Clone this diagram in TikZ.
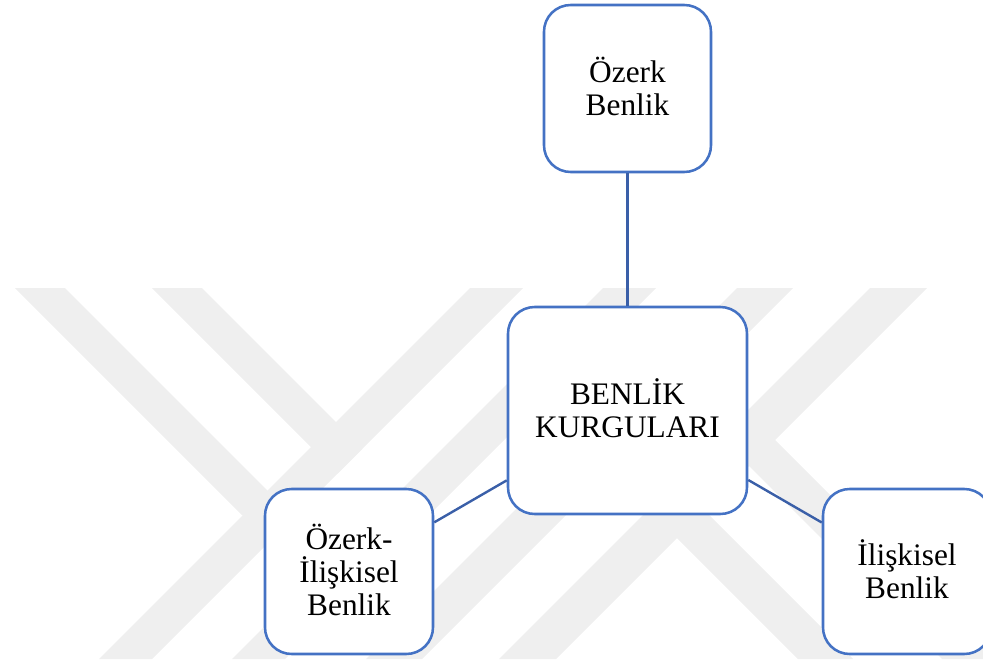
\documentclass[tikz,border=0pt]{standalone}
\usepackage{fontspec}
\setmainfont{Liberation Serif}
\definecolor{wm}{RGB}{239,239,239}
\definecolor{boxblue}{RGB}{68,114,196}
\definecolor{lineblue}{RGB}{58,95,168}
\begin{document}
\begin{tikzpicture}[x=0.75pt,y=-0.75pt,
  box/.style={draw=boxblue, line width=1.9pt, fill=white, rounded corners=20pt,
    inner sep=0pt, align=center, font=\fontsize{23.5}{24.75}\selectfont},
  link/.style={draw=lineblue, line width=1.8pt},
  wmark/.style={fill=wm, draw=none}]
\useasboundingbox (0,0) rectangle (983,664);
% watermark bands
\fill[wmark] (15,288) -- (65,288) -- (294,517) -- (242.5,515.5) -- cycle;
\fill[wmark] (152,288) -- (202,288) -- (362.5,448.5) -- (337.5,473.5) -- cycle;
\fill[wmark] (470,288) -- (523,288) -- (152,659) -- (99,659) -- cycle;
\fill[wmark] (603,288) -- (656,288) -- (285,659) -- (232,659) -- cycle;
\fill[wmark] (737,288) -- (793,288) -- (422,659) -- (366,659) -- cycle;
\fill[wmark] (870,288) -- (927,288) -- (556,659) -- (499,659) -- cycle;
\fill[wmark] (720.5,437.5) -- (746.5,411.5) -- (994,659) -- (942,659) -- cycle;
\fill[wmark] (648.5,509.5) -- (676,482) -- (853,659) -- (798,659) -- cycle;
% boxes
\node[box, minimum width=125.25pt, minimum height=125.25pt] (oz) at (627.5,88.5) {\smash{Ö}zerk\\Benlik};
\node[box, minimum width=179.25pt, minimum height=155.25pt] (bk) at (627.5,410.5) {BENL\smash{İ}K\\KURGULARI};
\node[box, minimum width=126pt, minimum height=123.75pt] (oi) at (349,571.5) {\smash{Ö}zerk-\\\smash{İ}lişkisel\\Benlik};
\node[box, minimum width=126pt, minimum height=123.75pt] (il) at (907,571.5) {\smash{İ}lişkisel\\Benlik};
% connectors
\draw[link] (oz) -- (bk);
\draw[link] (bk) -- (oi);
\draw[link] (bk) -- (il);
\end{tikzpicture}
\end{document}
